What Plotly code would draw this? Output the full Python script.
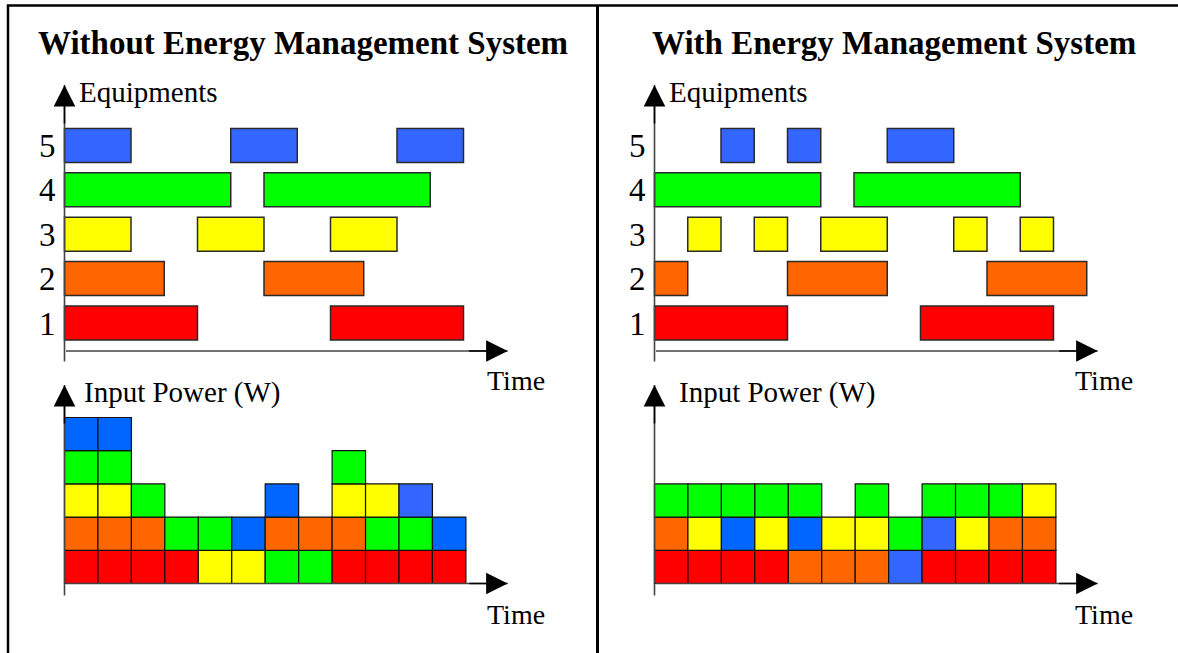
import plotly.graph_objects as go

# equipment numbers and their colours in the timeline
equipments = [1, 2, 3, 4, 5]
equipment_colors = ["#FF0000", "#FF6600", "#FFFF00", "#00FF00", "#3366FF"]

# on-periods (start, end) per equipment, in time units
without_on = [
    [(0, 4), (8, 12)],
    [(0, 3), (6, 9)],
    [(0, 2), (4, 6), (8, 10)],
    [(0, 5), (6, 11)],
    [(0, 2), (5, 7), (10, 12)],
]
with_on = [
    [(0, 4), (8, 12)],
    [(0, 1), (4, 7), (10, 13)],
    [(1, 2), (3, 4), (5, 7), (9, 10), (11, 12)],
    [(0, 5), (6, 11)],
    [(2, 3), (4, 5), (7, 9)],
]

# input power stacks, one string per time slot, bottom to top
cell_colors = {"R": "#FF0000", "O": "#FF6600", "Y": "#FFFF00",
               "G": "#00FF00", "B": "#0066FF", "b": "#3366FF"}
without_power = ["ROYGB", "ROYGB", "ROG", "RG", "YG", "YB",
                 "GOB", "GO", "ROYG", "RGY", "RGb", "RB"]
with_power = ["ROG", "RYG", "RBG", "RYG", "OBG", "OY",
              "OYG", "bG", "RbG", "RYG", "ROG", "ROY"]

titles = ["Without Energy Management System", "With Energy Management System"]

W, H = 1178, 653
SERIF = "Times New Roman, Liberation Serif, serif"
LINE = "#2a2a2a"
AXIS = "#444444"


def px_x(p):
    return p / W


def px_y(p):
    return 1 - p / H


fig = go.Figure()

# ---- equipment timelines ----
for k, schedule in enumerate([without_on, with_on]):
    xa = "x" if k == 0 else "x2"
    ya = "y" if k == 0 else "y2"
    for eq, color, periods in zip(equipments, equipment_colors, schedule):
        fig.add_trace(go.Bar(
            orientation="h",
            y=[eq] * len(periods),
            base=[p[0] for p in periods],
            x=[p[1] - p[0] for p in periods],
            width=0.766,
            marker=dict(color=color, line=dict(color=LINE, width=1.5)),
            xaxis=xa, yaxis=ya, showlegend=False, hoverinfo="skip",
        ))

# ---- input power stacks ----
for k, stacks in enumerate([without_power, with_power]):
    xs, bases, cols = [], [], []
    for slot, stack in enumerate(stacks):
        for level, code in enumerate(stack):
            xs.append(slot + 0.5)
            bases.append(level)
            cols.append(cell_colors[code])
    fig.add_trace(go.Bar(
        x=xs, y=[1] * len(xs), base=bases, width=1,
        marker=dict(color=cols, line=dict(color="#111111", width=1.2)),
        xaxis="x3" if k == 0 else "x4", yaxis="y3" if k == 0 else "y4",
        showlegend=False, hoverinfo="skip",
    ))

# axis geometry (pixel positions of the origin and unit sizes)
eq_unit_x, eq_unit_y = 33.25, 44.4
pw_unit_x, pw_unit_y = 33.45, 33.2
pad = 2


def eq_v(py):
    return 1 + (323 - py) / eq_unit_y


def pw_v(py):
    return (583.5 - py) / pw_unit_y


layout_axes = {}
for k, t0 in enumerate([64.5, 654.5]):
    sfx = "" if k == 0 else "2"
    layout_axes["xaxis" + sfx] = dict(
        domain=[px_x(t0 - pad), px_x(t0 + 500)],
        range=[-pad / eq_unit_x, 500 / eq_unit_x],
        visible=False, anchor="y" + sfx)
    layout_axes["yaxis" + sfx] = dict(
        domain=[px_y(372), px_y(80)],
        range=[eq_v(372), eq_v(80)],
        anchor="x" + sfx, showgrid=False, zeroline=False, showline=False,
        tickvals=equipments, ticktext=[str(e) for e in equipments],
        ticks="", ticklabelstandoff=6,
        tickfont=dict(family=SERIF, size=33, color="black"))
    sfx = "3" if k == 0 else "4"
    layout_axes["xaxis" + sfx] = dict(
        domain=[px_x(t0 - pad), px_x(t0 + 500)],
        range=[-pad / pw_unit_x, 500 / pw_unit_x],
        visible=False, anchor="y" + sfx)
    layout_axes["yaxis" + sfx] = dict(
        domain=[px_y(605), px_y(375)],
        range=[pw_v(605), pw_v(375)],
        visible=False, anchor="x" + sfx)

annotations = []


def arrow(xref, yref, x0, y0, x1, y1, horizontal):
    # grey axis line, then a black arrow head at the tip
    annotations.append(dict(
        xref=xref, yref=yref, axref=xref, ayref=yref,
        x=x1, y=y1, ax=x0, ay=y0, text="", showarrow=True,
        arrowhead=0, arrowwidth=1.6, arrowcolor=AXIS,
        standoff=0, startstandoff=0))
    annotations.append(dict(
        xref=xref, yref=yref, x=x1, y=y1, text="", showarrow=True,
        ax=-40 if horizontal else 0, ay=0 if horizontal else 40,
        arrowhead=2, arrowsize=2.7, arrowwidth=1.6, arrowcolor="black",
        standoff=0, startstandoff=0))


for k, t0 in enumerate([64.5, 654.5]):
    xa, ya = ("x", "y") if k == 0 else ("x2", "y2")
    # time axis and equipment axis
    arrow(xa, ya, 0, eq_v(351), (507.7 - 64.5) / eq_unit_x, eq_v(351), True)
    arrow(xa, ya, 0, eq_v(363), 0, eq_v(85), False)
    xa, ya = ("x3", "y3") if k == 0 else ("x4", "y4")
    arrow(xa, ya, 0, 0, (507.7 - 64.5) / pw_unit_x, 0, True)
    arrow(xa, ya, 0, pw_v(597), 0, pw_v(385), False)

    off = 0 if k == 0 else 590
    annotations.append(dict(
        xref="paper", yref="paper", x=px_x(303 if k == 0 else 894), y=px_y(42.5),
        text="<b>" + titles[k] + "</b>", showarrow=False,
        xanchor="center", yanchor="middle",
        font=dict(family=SERIF, size=33, color="black")))
    annotations.append(dict(
        xref="paper", yref="paper", x=px_x(76.5 + off), y=px_y(92),
        text="Equipments", showarrow=False, xanchor="left", yanchor="middle",
        font=dict(family=SERIF, size=29, color="black")))
    annotations.append(dict(
        xref="paper", yref="paper", x=px_x(82 + (595 if k else 0)), y=px_y(392),
        text="Input Power (W)", showarrow=False, xanchor="left", yanchor="middle",
        font=dict(family=SERIF, size=29, color="black")))
    for ty in [380.5, 614]:
        annotations.append(dict(
            xref="paper", yref="paper", x=px_x(515.5 + (588.5 if k else 0)), y=px_y(ty),
            text="Time", showarrow=False, xanchor="center", yanchor="middle",
            font=dict(family=SERIF, size=28, color="black")))

# frame around the two panels
shapes = [
    dict(type="line", xref="paper", yref="paper", x0=px_x(8), x1=px_x(8),
         y0=0, y1=px_y(5.5), line=dict(color="black", width=2.5)),
    dict(type="line", xref="paper", yref="paper", x0=px_x(6.8), x1=1,
         y0=px_y(5.5), y1=px_y(5.5), line=dict(color="black", width=2.5)),
    dict(type="line", xref="paper", yref="paper", x0=px_x(597.5), x1=px_x(597.5),
         y0=0, y1=px_y(5.5), line=dict(color="black", width=3)),
]

fig.update_layout(
    width=W, height=H, autosize=False,
    margin=dict(l=0, r=0, t=0, b=0),
    paper_bgcolor="white", plot_bgcolor="white",
    barmode="overlay", showlegend=False,
    annotations=annotations, shapes=shapes,
    **layout_axes,
)

# drop the default page margin so the figure fills the window exactly
fig.write_html("out.html", config={"displayModeBar": False},
               post_script="document.body.style.margin='0';"
               "document.body.style.overflow='hidden';")
